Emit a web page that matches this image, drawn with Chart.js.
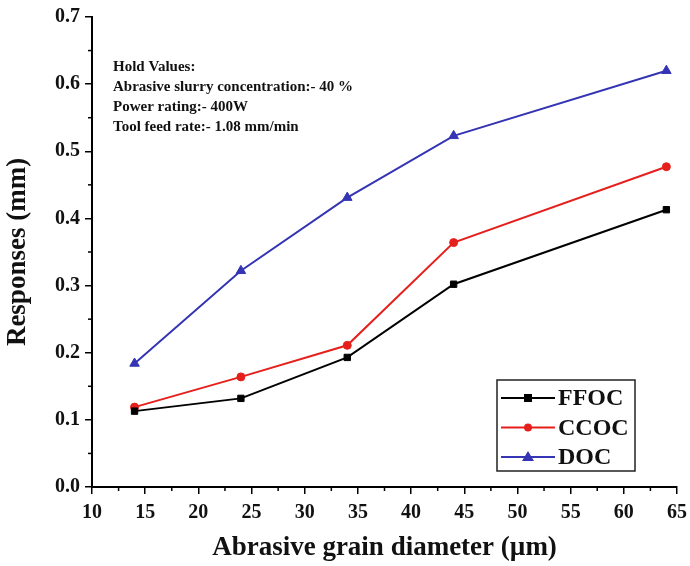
<!DOCTYPE html>
<html>
<head>
<meta charset="utf-8">
<script src="https://cdn.jsdelivr.net/npm/chart.js@4.4.1/dist/chart.umd.min.js"></script>
<style>
  html, body { margin: 0; padding: 0; background: #fff; }
  #wrap { width: 690px; height: 566px; }
</style>
</head>
<body>
<div id="wrap"><canvas id="chart" width="690" height="566"></canvas></div>
<script>
// grain diameter (um)
const grainSizes = [14, 24, 34, 44, 64];
// responses (mm)
const ffoc = [0.113, 0.132, 0.193, 0.302, 0.413];
const ccoc = [0.119, 0.164, 0.211, 0.364, 0.477];
const doc = [0.184, 0.322, 0.431, 0.523, 0.620];
const seriesNames = ['FFOC', 'CCOC', 'DOC'];
const holdValues = [
  'Hold Values:',
  'Abrasive slurry concentration:- 40 %',
  'Power rating:- 400W',
  'Tool feed rate:- 1.08 mm/min'
];

const SERIF = '"Liberation Serif", "Times New Roman", serif';
const colors = ['#000000', '#e5201c', '#3434b4'];
const markers = ['rect', 'circle', 'triangle'];
const markerSizes = [4.5, 4, 5.5];

function toPoints(ys) {
  return grainSizes.map((x, i) => ({ x: x, y: ys[i] }));
}

// minor ticks, hold-value text and the boxed legend inside the plot
const extras = {
  id: 'extras',
  afterDraw(chart) {
    const ctx = chart.ctx;
    const xs = chart.scales.x, ys = chart.scales.y;
    const area = chart.chartArea;
    ctx.save();
    ctx.strokeStyle = '#000';
    ctx.lineWidth = 1.5;
    for (let v = 12.5; v < 65; v += 5) {
      const px = xs.getPixelForValue(v);
      ctx.beginPath();
      ctx.moveTo(px, area.bottom);
      ctx.lineTo(px, area.bottom + 4);
      ctx.stroke();
    }
    for (let v = 0.05; v < 0.7; v += 0.1) {
      const py = ys.getPixelForValue(v);
      ctx.beginPath();
      ctx.moveTo(area.left, py);
      ctx.lineTo(area.left - 4, py);
      ctx.stroke();
    }

    // hold values
    ctx.fillStyle = '#111';
    ctx.font = 'bold 15px ' + SERIF;
    ctx.textBaseline = 'middle';
    ctx.textAlign = 'left';
    holdValues.forEach((t, i) => ctx.fillText(t, 113, 67 + i * 20));

    // legend
    const lx = 497, ly = 380, lw = 138, lh = 91;
    ctx.lineWidth = 1.5;
    ctx.strokeStyle = '#222';
    ctx.strokeRect(lx, ly, lw, lh);
    seriesNames.forEach((name, i) => {
      const cy = ly + 18 + i * 29.5;
      ctx.strokeStyle = colors[i];
      ctx.fillStyle = colors[i];
      ctx.lineWidth = 2;
      ctx.beginPath();
      ctx.moveTo(lx + 4, cy);
      ctx.lineTo(lx + 58, cy);
      ctx.stroke();
      const mx = lx + 31;
      if (markers[i] === 'rect') {
        ctx.fillRect(mx - 4, cy - 4, 8, 8);
      } else if (markers[i] === 'circle') {
        ctx.beginPath();
        ctx.arc(mx, cy, 4, 0, Math.PI * 2);
        ctx.fill();
      } else {
        ctx.beginPath();
        ctx.moveTo(mx, cy - 6);
        ctx.lineTo(mx + 6, cy + 4);
        ctx.lineTo(mx - 6, cy + 4);
        ctx.closePath();
        ctx.fill();
      }
      ctx.fillStyle = '#111';
      ctx.font = 'bold 24px ' + SERIF;
      ctx.textBaseline = 'middle';
      ctx.fillText(name, lx + 61, cy + 1);
    });
    ctx.restore();
  }
};

const datasets = [ffoc, ccoc, doc].map((vals, i) => ({
  label: seriesNames[i],
  data: toPoints(vals),
  borderColor: colors[i],
  backgroundColor: colors[i],
  borderWidth: 2,
  pointStyle: markers[i],
  pointRadius: markerSizes[i],
  pointHoverRadius: markerSizes[i],
  pointBorderWidth: 1,
  tension: 0
}));

new Chart(document.getElementById('chart').getContext('2d'), {
  type: 'line',
  data: { datasets: datasets },
  options: {
    responsive: false,
    animation: false,
    layout: { padding: { top: 15, right: 13, left: 0, bottom: 0 } },
    plugins: {
      legend: { display: false },
      tooltip: { enabled: false }
    },
    scales: {
      x: {
        type: 'linear',
        min: 10,
        max: 65,
        ticks: {
          stepSize: 5,
          color: '#111',
          font: { family: SERIF, size: 20, weight: 'bold' },
          padding: 7
        },
        grid: { drawOnChartArea: false, drawTicks: true, tickLength: 7, color: '#000', lineWidth: 1.5 },
        border: { color: '#000', width: 2 },
        title: {
          display: true,
          text: 'Abrasive grain diameter (µm)',
          color: '#111',
          font: { family: SERIF, size: 27, weight: 'bold' },
          padding: { top: 4, bottom: 2 }
        },
        afterFit(scale) {
          scale.height = 79;
          scale.paddingLeft = 0;
          scale.paddingRight = 0;
        }
      },
      y: {
        min: 0,
        max: 0.7,
        ticks: {
          stepSize: 0.1,
          color: '#111',
          font: { family: SERIF, size: 20, weight: 'bold' },
          padding: 5,
          callback: v => v.toFixed(1)
        },
        grid: { drawOnChartArea: false, drawTicks: true, tickLength: 7, color: '#000', lineWidth: 1.5 },
        border: { color: '#000', width: 2 },
        title: {
          display: true,
          text: 'Responses (mm)',
          color: '#111',
          font: { family: SERIF, size: 27, weight: 'bold' },
          padding: { top: 2, bottom: 4 }
        },
        afterFit(scale) { scale.width = 92; }
      }
    }
  },
  plugins: [extras]
});
</script>
</body>
</html>
